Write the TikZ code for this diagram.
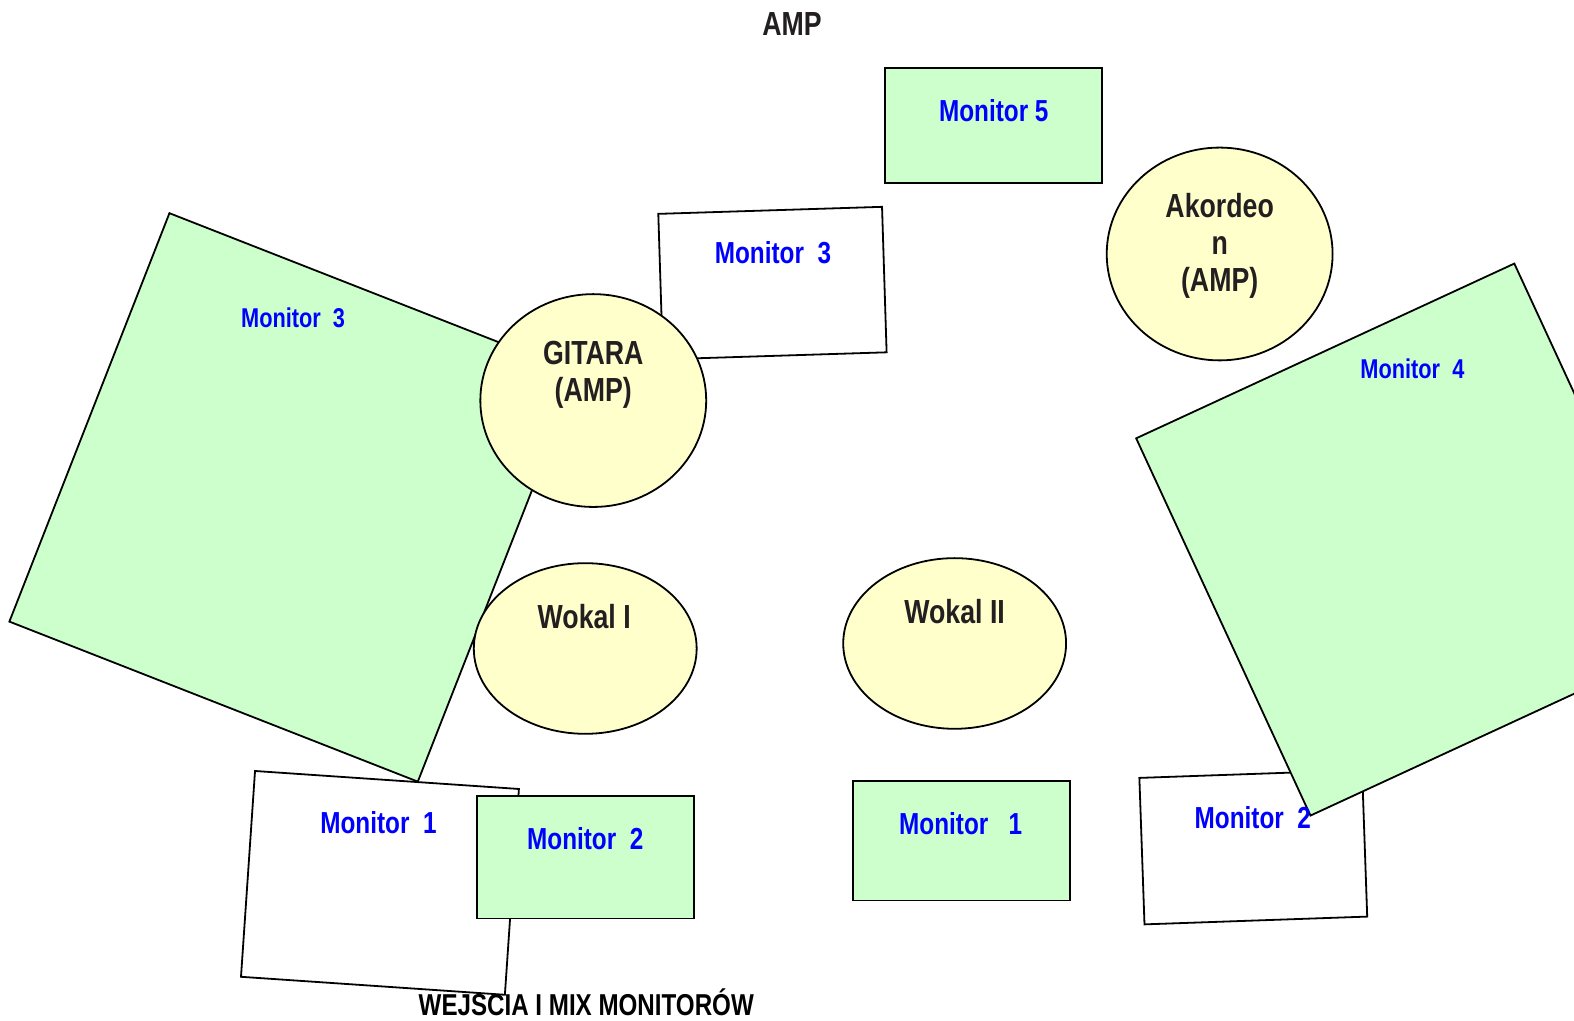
\documentclass[tikz,border=0pt]{standalone}
\usepackage{fontspec}
\setmainfont{Liberation Sans}[FakeStretch=0.8]
\usetikzlibrary{shapes.geometric}
\definecolor{monGreen}{HTML}{CCFFCC}
\definecolor{ampYellow}{HTML}{FFFFCC}
\definecolor{txtBlack}{HTML}{231F20}
\definecolor{monBlue}{HTML}{0000FF}
\newcommand{\px}{0.502pt}

\begin{document}
\begin{tikzpicture}[x=0.502pt, y=-0.502pt,
    monitor/.style={rectangle, draw, line width=0.9pt, inner sep=0pt},
    amp node/.style={ellipse, draw, line width=0.9pt, fill=ampYellow, inner sep=0pt},
    mon label/.style={text=monBlue, font=\bfseries\fontsize{15.2}{18}\selectfont},
    small label/.style={text=monBlue, font=\bfseries\fontsize{13.6}{16}\selectfont},
    name label/.style={text=txtBlack, font=\bfseries\fontsize{16.7}{18.6}\selectfont, align=center}]
    \useasboundingbox (0,0) rectangle (1568,1017);
    \clip (0,0) rectangle (1568,1017);

    % lewa strona
    \node[monitor, fill=monGreen, minimum width=437*\px, minimum height=437*\px, rotate=-21.4] (m3l) at (292.5,495.5) {};
    \node[monitor, fill=white, minimum width=223*\px, minimum height=145*\px, rotate=1.8] (m3t) at (769.5,282) {};
    \node[amp node, minimum width=225*\px, minimum height=212*\px] (gitara) at (591,399) {};
    \node[amp node, minimum width=222*\px, minimum height=170*\px] (wokal1) at (583,646) {};
    \node[monitor, fill=white, minimum width=263.5*\px, minimum height=205.5*\px, rotate=-3.9] (m1l) at (378.5,879.5) {};
    \node[monitor, fill=monGreen, minimum width=216*\px, minimum height=122*\px] (m2l) at (583,854) {};

    % prawa strona
    \node[monitor, fill=monGreen, minimum width=216*\px, minimum height=114*\px] (m5) at (990,125) {};
    \node[amp node, minimum width=225*\px, minimum height=212*\px] (akord) at (1215,253) {};
    \node[amp node, minimum width=222*\px, minimum height=170*\px] (wokal2) at (951,641) {};
    \node[monitor, fill=monGreen, minimum width=216*\px, minimum height=119*\px] (m1r) at (958,837.5) {};
    \node[monitor, fill=white, minimum width=222*\px, minimum height=146*\px, rotate=2] (m2r) at (1248.5,844) {};
    \node[monitor, fill=monGreen, minimum width=415*\px, minimum height=414*\px, rotate=24.8] (m4) at (1407,537.5) {};

    % opisy
    \node[name label] (amp) at (789,24) {AMP};
    \node[mon label] (m5-txt) at (990,110) {Monitor 5};
    \node[name label] (akord-txt) at (1215,245) {Akordeo\\n\\(AMP)};
    \node[mon label] (m3t-txt) at (770,252) {Monitor\ \ 3};
    \node[small label] (m3l-txt) at (292,317) {Monitor\ \ 3};
    \node[name label] (gitara-txt) at (591,373) {GITARA\\(AMP)};
    \node[small label] (m4-txt) at (1407,367) {Monitor\ \ 4};
    \node[name label] (wokal1-txt) at (582,614) {Wokal I};
    \node[name label] (wokal2-txt) at (951,609) {Wokal II};
    \node[mon label] (m1l-txt) at (377,819) {Monitor\ \ 1};
    \node[mon label] (m2l-txt) at (583,835) {Monitor\ \ 2};
    \node[mon label] (m1r-txt) at (957,820) {Monitor\ \ \ 1};
    \node[mon label] (m2r-txt) at (1248,814) {Monitor\ \ 2};
    \node[inner sep=0pt, text=black, font=\bfseries\fontsize{15.1}{17}\selectfont] (wejscia) at (584,998) {WEJSCIA I MIX MONITORÓW};
\end{tikzpicture}
\end{document}
